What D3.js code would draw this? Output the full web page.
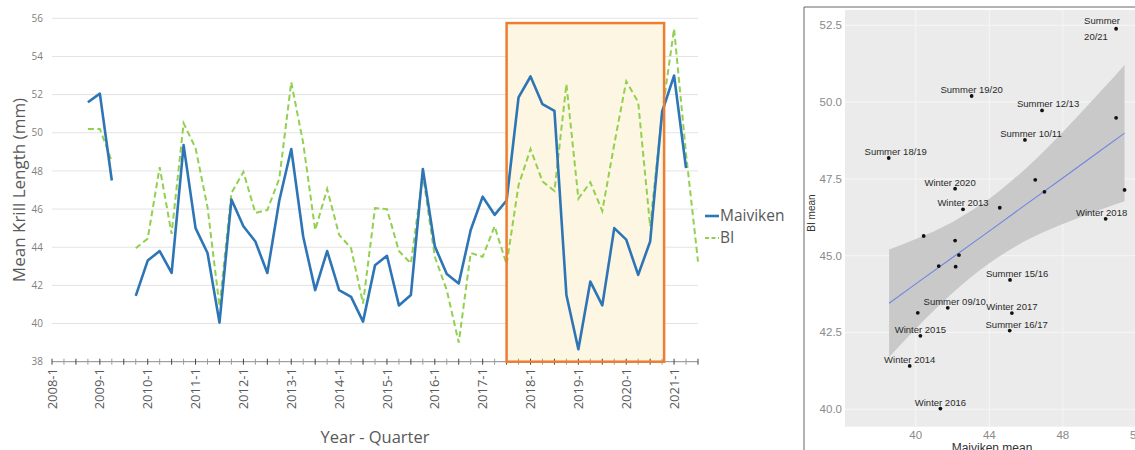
<!DOCTYPE html>
<meta charset="utf-8">
<style type="text/css">

body { margin: 0; background: #fff; }

.grid line { stroke: #e3e3e3; stroke-width: 1; }

.ytick text { font-family: "Open Sans", sans-serif; font-size: 10px; fill: #7f7f7f; }

.xlab { font-family: "Open Sans", sans-serif; font-size: 13px; fill: #595959; }

.title { font-family: "Open Sans", sans-serif; fill: #595959; }

.maiviken { fill: none; stroke: #2e75b6; stroke-width: 2.6; stroke-linejoin: round; }

.bi { fill: none; stroke: #92d050; stroke-width: 2; stroke-dasharray: 6,3.5; }

.sc text { font-family: "Liberation Sans", Arial, sans-serif; }

</style>
<body>
</body>

<script src="https://d3js.org/d3.v7.min.js"></script>
<script>

// categories: 2008-1 .. 2021-3
var quarters = [];
d3.range(2008, 2022).forEach(function(y) {
    [1, 2, 3, 4].forEach(function(q) { quarters.push(y + "-" + q); });
});
quarters = quarters.slice(0, 55);

var maiviken = [null, null, null, 51.6, 52.05, 47.5, null, 41.45,
    43.3, 43.8, 42.65, 49.35, 45.0, 43.7, 40.05, 46.5,
    45.1, 44.3, 42.65, 46.45, 49.15, 44.55, 41.75, 43.8,
    41.75, 41.4, 40.1, 43.05, 43.55, 40.95, 41.5, 48.1,
    44.05, 42.6, 42.1, 44.9, 46.65, 45.7, 46.45, 51.85,
    52.95, 51.5, 51.15, 41.5, 38.65, 42.2, 40.95, 45.0,
    44.4, 42.55, 44.3, 51.1, 53.0, 48.15, null];

var bi = [null, null, null, 50.2, 50.2, 48.5, null, 43.95,
    44.45, 48.2, 44.7, 50.5, 49.2, 46.1, 40.9, 46.85,
    47.95, 45.8, 45.95, 47.6, 52.65, 49.45, 44.9, 47.05,
    44.65, 43.95, 41.05, 46.05, 46.0, 43.8, 43.15, 47.8,
    43.5, 41.75, 39.0, 43.7, 43.5, 45.1, 43.1, 47.25,
    49.15, 47.45, 46.95, 52.55, 46.55, 47.4, 45.9, 49.4,
    52.7, 51.6, 45.1, 51.0, 55.45, 48.9, 43.25];

var yTicks = [38, 40, 42, 44, 46, 48, 50, 52, 54, 56];

// highlighted period
var boxStart = "2017-3", boxEnd = "2020-4", boxTop = 55.75;

// right panel: seasonal means
var scMaiviken = [50.9, 43.04, 46.87, 45.94, 38.53, 42.14, 42.57, 44.57, 46.5, 47.0,
    50.9, 51.36, 50.33, 40.43, 42.14, 42.35, 41.25, 42.17, 45.13, 41.74,
    40.11, 45.23, 45.11, 40.25, 39.67, 41.34];
var scBI = [52.39, 50.2, 49.73, 48.77, 48.18, 47.18, 46.51, 46.56, 47.47, 47.08,
    49.49, 47.14, 46.2, 45.64, 45.49, 45.02, 44.66, 44.64, 44.21, 43.3,
    43.14, 43.13, 42.56, 42.39, 41.41, 40.02];
var scLabels = ["Summer 20/21", "Summer 19/20", "Summer 12/13", "Summer 10/11", "Summer 18/19",
    "Winter 2020", "Winter 2013", "", "", "", "", "", "Winter 2018", "", "", "", "", "",
    "Summer 15/16", "Summer 09/10", "", "Winter 2017", "Summer 16/17", "Winter 2015",
    "Winter 2014", "Winter 2016"];

// linear fit and its confidence band
var bandX  = [38.55, 40, 42, 44, 46, 48, 50, 51.36];
var fitY   = [43.45, 44.08, 44.94, 45.80, 46.67, 47.53, 48.40, 48.99];
var bandLo = [41.70, 42.62, 43.78, 44.75, 45.49, 46.03, 46.49, 46.77];
var bandHi = [45.20, 45.54, 46.10, 46.85, 47.85, 49.03, 50.31, 51.21];

var scXTicks = [40, 44, 48, 52];
var scYTicks = [40, 42.5, 45, 47.5, 50, 52.5];

var svg = d3.select("body").append("svg")
    .attr("width", 1135)
    .attr("height", 450);

// ---------- left chart ----------
var x = d3.scalePoint()
    .domain(quarters)
    .range([52, 698]);

var y = d3.scaleLinear()
    .domain([38, 56])
    .range([361.7, 18.3]);

svg.append("g")
    .attr("class", "grid")
  .selectAll("line")
    .data(yTicks.slice(1))
  .enter().append("line")
    .attr("x1", 52)
    .attr("x2", 698)
    .attr("y1", function(d) { return y(d); })
    .attr("y2", function(d) { return y(d); });

svg.append("g")
    .attr("class", "ytick")
    .attr("transform", "translate(43,0)")
    .call(d3.axisLeft(y).tickValues(yTicks).tickSize(0).tickPadding(0))
    .call(function(g) { g.select(".domain").remove(); });

// highlight box fill
svg.append("rect")
    .attr("x", x(boxStart))
    .attr("y", y(boxTop))
    .attr("width", x(boxEnd) - x(boxStart) + 2)
    .attr("height", y(38) - y(boxTop))
    .attr("fill", "#fdf6e2");

// x axis
var xa = svg.append("g");
xa.append("line")
    .attr("x1", 52).attr("x2", 698)
    .attr("y1", y(38)).attr("y2", y(38))
    .attr("stroke", "#8c8c8c");
xa.selectAll(".tk")
    .data(quarters)
  .enter().append("line")
    .attr("x1", function(d) { return x(d); })
    .attr("x2", function(d) { return x(d); })
    .attr("y1", y(38) - 3)
    .attr("y2", y(38) + 3)
    .attr("stroke", function(d, i) { return i % 2 ? "#9a9a9a" : "#444"; });
xa.selectAll("text")
    .data(quarters.filter(function(d, i) { return i % 4 == 0; }))
  .enter().append("text")
    .attr("class", "xlab")
    .attr("transform", function(d) { return "translate(" + x(d) + "," + 368 + ") rotate(-90)"; })
    .attr("text-anchor", "end")
    .attr("dy", "0.35em")
    .text(function(d) { return d; });

var line = d3.line()
    .defined(function(d) { return d != null; })
    .x(function(d, i) { return x(quarters[i]); })
    .y(function(d) { return y(d); });

svg.append("path")
    .datum(bi)
    .attr("class", "bi")
    .attr("d", line);

svg.append("path")
    .datum(maiviken)
    .attr("class", "maiviken")
    .attr("d", line);

// highlight box border
svg.append("rect")
    .attr("x", x(boxStart))
    .attr("y", y(boxTop))
    .attr("width", x(boxEnd) - x(boxStart) + 2)
    .attr("height", y(38) - y(boxTop))
    .attr("fill", "none")
    .attr("stroke", "#ed7d31")
    .attr("stroke-width", 2.5);

svg.append("text")
    .attr("class", "title")
    .attr("transform", "translate(25,190) rotate(-90)")
    .attr("text-anchor", "middle")
    .style("font-size", "17px")
    .text("Mean Krill Length (mm)");

svg.append("text")
    .attr("class", "title")
    .attr("x", 375)
    .attr("y", 443)
    .attr("text-anchor", "middle")
    .style("font-size", "16.5px")
    .text("Year - Quarter");

// legend
var legend = [{name: "Maiviken", cls: "maiviken", y: 216}, {name: "BI", cls: "bi", y: 238}];
var lg = svg.selectAll(".lg")
    .data(legend)
  .enter().append("g");
lg.append("line")
    .attr("class", function(d) { return d.cls; })
    .attr("x1", 705).attr("x2", 719)
    .attr("y1", function(d) { return d.y; })
    .attr("y2", function(d) { return d.y; })
    .style("stroke-dasharray", function(d) { return d.cls == "bi" ? "4,2.5" : null; });
lg.append("text")
    .attr("class", "title")
    .attr("x", 720)
    .attr("y", function(d) { return d.y; })
    .attr("dy", "0.35em")
    .style("font-size", "15.5px")
    .text(function(d) { return d.name; });

// ---------- right panel ----------
var sc = svg.append("g").attr("class", "sc");

var sx = d3.scaleLinear()
    .domain([36.15, 52.2])
    .range([845, 1140]);

var sy = d3.scaleLinear()
    .domain([39.43, 53.0])
    .range([426.7, 10]);

sc.append("line")
    .attr("x1", 804).attr("x2", 804).attr("y1", 7).attr("y2", 450)
    .attr("stroke", "#666");
sc.append("line")
    .attr("x1", 804).attr("x2", 1135).attr("y1", 7).attr("y2", 7)
    .attr("stroke", "#666");

sc.append("rect")
    .attr("x", sx(36.15))
    .attr("y", sy(53.0))
    .attr("width", 300)
    .attr("height", sy(39.43) - sy(53.0))
    .attr("fill", "#ebebeb");

sc.selectAll(".gy")
    .data(scYTicks)
  .enter().append("line")
    .attr("x1", 845).attr("x2", 1135)
    .attr("y1", function(d) { return sy(d); })
    .attr("y2", function(d) { return sy(d); })
    .attr("stroke", "#f6f6f6");
sc.selectAll(".gx")
    .data(scXTicks)
  .enter().append("line")
    .attr("x1", function(d) { return sx(d); })
    .attr("x2", function(d) { return sx(d); })
    .attr("y1", sy(53.0)).attr("y2", sy(39.43))
    .attr("stroke", "#f6f6f6");

var band = d3.area()
    .x(function(d, i) { return sx(bandX[i]); })
    .y0(function(d, i) { return sy(bandLo[i]); })
    .y1(function(d, i) { return sy(bandHi[i]); })
    .curve(d3.curveMonotoneX);

sc.append("path")
    .datum(bandX)
    .attr("d", band)
    .attr("fill", "#c9c9c9");

sc.append("path")
    .datum(fitY)
    .attr("d", d3.line()
        .x(function(d, i) { return sx(bandX[i]); })
        .y(function(d) { return sy(d); }))
    .attr("fill", "none")
    .attr("stroke", "#6f86e0")
    .attr("stroke-width", 1.1);

sc.selectAll("circle")
    .data(scMaiviken)
  .enter().append("circle")
    .attr("cx", function(d) { return sx(d); })
    .attr("cy", function(d, i) { return sy(scBI[i]); })
    .attr("r", 1.9)
    .attr("fill", "#111");

// horizontal shift of some labels
var nudge = {"Summer 12/13": 6, "Summer 10/11": 6, "Summer 18/19": 7, "Winter 2020": -5,
    "Summer 15/16": 7, "Summer 09/10": 7, "Summer 16/17": 7, "Winter 2018": -4};

var labelled = d3.range(scLabels.length).filter(function(i) { return scLabels[i] != ""; });

sc.selectAll(".pl")
    .data(labelled)
  .enter().append("text")
    .attr("x", function(i) { return sx(scMaiviken[i]) + (nudge[scLabels[i]] || 0); })
    .attr("y", function(i) { return sy(scBI[i]) - 3; })
    .attr("text-anchor", "middle")
    .style("font-size", "9.5px")
    .attr("fill", "#2a2a2a")
    .each(function(i) {
        var t = d3.select(this), d = scLabels[i];
        if (d == "Summer 20/21") {
            var x0 = sx(scMaiviken[i]) - 32;
            t.attr("text-anchor", "start");
            t.append("tspan").attr("x", x0).attr("dy", "-0.2em").text("Summer");
            t.append("tspan").attr("x", x0).attr("dy", "1.7em").text("20/21");
        } else {
            t.text(d);
        }
    });

sc.selectAll(".ty")
    .data(scYTicks)
  .enter().append("text")
    .attr("x", 842)
    .attr("y", function(d) { return sy(d); })
    .attr("dy", "0.35em")
    .attr("text-anchor", "end")
    .style("font-size", "11.5px")
    .attr("fill", "#8a8a8a")
    .text(function(d) { return d.toFixed(1); });

sc.selectAll(".tx")
    .data(scXTicks)
  .enter().append("text")
    .attr("x", function(d) { return sx(d); })
    .attr("y", 438.5)
    .attr("text-anchor", "middle")
    .style("font-size", "11.5px")
    .attr("fill", "#8a8a8a")
    .text(function(d) { return d; });

sc.append("text")
    .attr("x", 992)
    .attr("y", 452)
    .attr("text-anchor", "middle")
    .style("font-size", "12px")
    .attr("fill", "#333")
    .text("Maiviken mean");

sc.append("text")
    .attr("transform", "translate(815,213) rotate(-90)")
    .attr("text-anchor", "middle")
    .style("font-size", "10px")
    .attr("fill", "#333")
    .text("BI mean");

</script>
